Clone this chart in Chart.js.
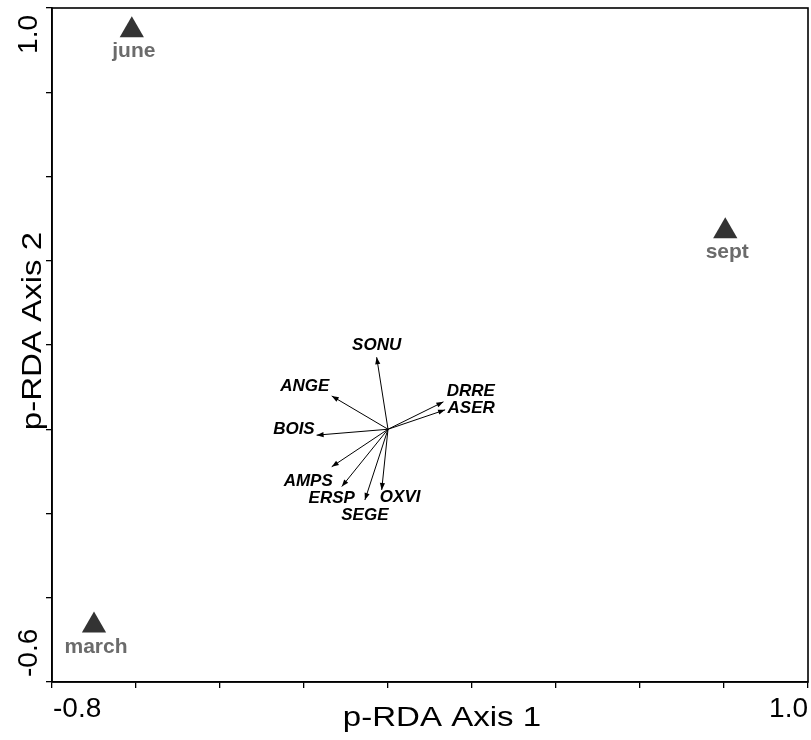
<!DOCTYPE html>
<html lang="en">
<head>
<meta charset="UTF-8">
<title>p-RDA biplot</title>
<style>
  * { margin: 0; padding: 0; }
  body { background: #fff; }
  #chart { display: block; }
</style>
</head>
<body>
<canvas id="chart" width="811" height="740"></canvas>
<script src="https://cdn.jsdelivr.net/npm/chart.js"></script>
<script>
// sampling dates (triangles)
const siteNames = ['june', 'sept', 'march'];
const siteX = [-0.610, 0.803, -0.700];
const siteY = [0.947, 0.470, -0.466];

// species arrows (tips) and where their names sit
const speciesNames = ['SONU', 'ANGE', 'DRRE', 'ASER', 'BOIS', 'AMPS', 'ERSP', 'SEGE', 'OXVI'];
const arrowX = [-0.027, -0.134, 0.132, 0.136, -0.170, -0.134, -0.110, -0.055, -0.015];
const arrowY = [0.171, 0.079, 0.065, 0.046, -0.014, -0.089, -0.136, -0.168, -0.144];
const nameX = [-0.027, -0.198, 0.197, 0.198, -0.224, -0.190, -0.134, -0.055, 0.029];
const nameY = [0.202, 0.105, 0.093, 0.054, 0.002, -0.121, -0.160, -0.201, -0.159];

// axes
const xMin = -0.8, xMax = 1.0;
const yMin = -0.6, yMax = 1.0;
const xTickLabels = ['-0.8', '1.0'];
const yTickLabels = ['-0.6', '1.0'];
const xTitle = 'p-RDA Axis 1';
const yTitle = 'p-RDA Axis 2';

function drawText(ctx, txt, x, y, rot, sx, font, align, color) {
  ctx.save();
  ctx.translate(x, y);
  ctx.rotate(rot);
  ctx.scale(sx, 1);
  ctx.font = font;
  ctx.fillStyle = color;
  ctx.textAlign = align;
  ctx.textBaseline = 'alphabetic';
  ctx.fillText(txt, 0, 0);
  ctx.restore();
}

const biplotPlugin = {
  id: 'biplot',
  afterDatasetsDraw(chart) {
    const ctx = chart.ctx;
    const xs = chart.scales.x, ys = chart.scales.y;
    const ox = xs.getPixelForValue(0), oy = ys.getPixelForValue(0);

    // arrow heads
    ctx.save();
    ctx.fillStyle = '#000';
    for (let i = 0; i < speciesNames.length; i++) {
      const tx = xs.getPixelForValue(arrowX[i]);
      const ty = ys.getPixelForValue(arrowY[i]);
      const a = Math.atan2(ty - oy, tx - ox);
      const L = 7, W = 2.6;
      const bx = tx - L * Math.cos(a), by = ty - L * Math.sin(a);
      ctx.beginPath();
      ctx.moveTo(tx, ty);
      ctx.lineTo(bx - W * Math.sin(a), by + W * Math.cos(a));
      ctx.lineTo(bx + W * Math.sin(a), by - W * Math.cos(a));
      ctx.closePath();
      ctx.fill();
    }
    ctx.restore();

    // species names
    for (let i = 0; i < speciesNames.length; i++) {
      const px = xs.getPixelForValue(nameX[i]);
      const py = ys.getPixelForValue(nameY[i]);
      drawText(ctx, speciesNames[i], px, py + 6, 0, 1, 'italic bold 17px "Liberation Sans", Arial, sans-serif', 'center', '#000');
    }

    // site names under triangles
    for (let i = 0; i < siteNames.length; i++) {
      const px = xs.getPixelForValue(siteX[i]);
      const py = ys.getPixelForValue(siteY[i]);
      drawText(ctx, siteNames[i], px + 2, py + 27, 0, 1, 'bold 21px "Liberation Sans", Arial, sans-serif', 'center', '#6b6b6b');
    }

    // frame
    const ca = chart.chartArea;
    ctx.save();
    ctx.strokeStyle = '#000';
    ctx.lineWidth = 1.6;
    ctx.strokeRect(ca.left, ca.top, ca.right - ca.left, ca.bottom - ca.top);
    ctx.restore();
  },
  afterDraw(chart) {
    const ctx = chart.ctx;
    const ca = chart.chartArea;
    const tickFont = '28px "Liberation Sans", Arial, sans-serif';
    const titleFont = '28px "Liberation Sans", Arial, sans-serif';

    // x tick labels at the ends
    drawText(ctx, xTickLabels[0], ca.left + 1, 717, 0, 1, tickFont, 'left', '#000');
    drawText(ctx, xTickLabels[1], ca.right, 717, 0, 1, tickFont, 'right', '#000');
    // y tick labels, turned
    drawText(ctx, yTickLabels[0], 37, ca.bottom - 5, -Math.PI / 2, 1, tickFont, 'left', '#000');
    drawText(ctx, yTickLabels[1], 37, ca.top + 7, -Math.PI / 2, 1, tickFont, 'right', '#000');

    // axis titles
    drawText(ctx, xTitle, 442, 726, 0, 1.18, titleFont, 'center', '#000');
    drawText(ctx, yTitle, 41, 331, -Math.PI / 2, 1.18, titleFont, 'center', '#000');
  }
};

const datasets = [];
for (let i = 0; i < speciesNames.length; i++) {
  datasets.push({
    label: speciesNames[i],
    data: [{ x: 0, y: 0 }, { x: arrowX[i], y: arrowY[i] }],
    showLine: true,
    borderColor: '#000',
    borderWidth: 1,
    pointRadius: 0,
    fill: false
  });
}
datasets.push({
  label: 'dates',
  data: siteX.map((x, i) => ({ x: x, y: siteY[i] })),
  pointStyle: 'triangle',
  pointRadius: 14,
  backgroundColor: '#333333',
  borderWidth: 0,
  showLine: false
});

const axisCommon = {
  type: 'linear',
  grid: { drawOnChartArea: false, color: '#000', lineWidth: 1.3, tickLength: 6 },
  border: { display: true, color: '#000', width: 1.6 },
  ticks: { display: false, stepSize: 0.2, autoSkip: false }
};

new Chart(document.getElementById('chart'), {
  type: 'scatter',
  data: { datasets },
  options: {
    responsive: false,
    animation: false,
    layout: { autoPadding: false, padding: { left: 0, top: 8, right: 3, bottom: 0 } },
    plugins: { legend: { display: false }, tooltip: { enabled: false } },
    scales: {
      x: Object.assign({}, axisCommon, {
        min: xMin, max: xMax,
        afterFit(scale) { scale.height = 58; }
      }),
      y: Object.assign({}, axisCommon, {
        min: yMin, max: yMax,
        afterFit(scale) { scale.width = 52; }
      })
    }
  },
  plugins: [biplotPlugin]
});
</script>
</body>
</html>
